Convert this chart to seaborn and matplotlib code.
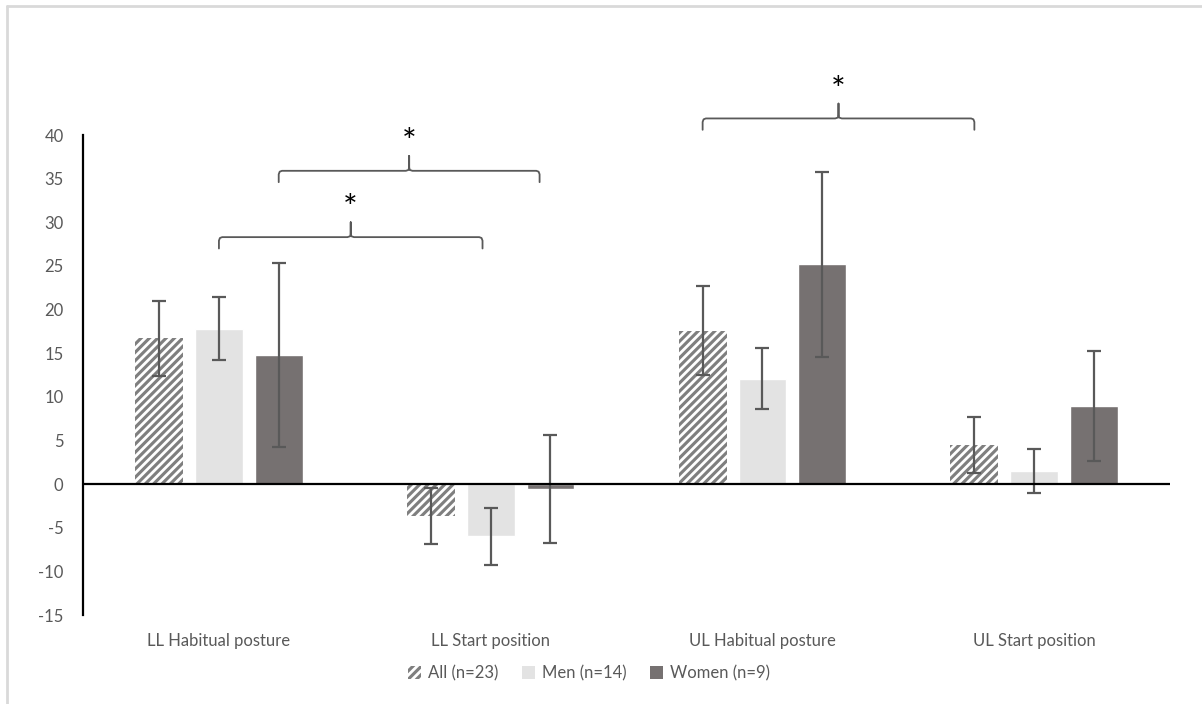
import numpy as np
import pandas as pd
import matplotlib
matplotlib.use("Agg")
import matplotlib.pyplot as plt
import seaborn as sns

# values
categories = ["LL Habitual posture", "LL Start position", "UL Habitual posture", "UL Start position"]
groups = ["All (n=23)", "Men (n=14)", "Women (n=9)"]
means_all = [16.7, -3.7, 17.6, 4.5]
means_men = [17.8, -6.0, 12.1, 1.5]
means_women = [14.8, -0.6, 25.2, 8.9]
err_all = [4.3, 3.2, 5.1, 3.2]
err_men = [3.6, 3.3, 3.5, 2.5]
err_women = [10.5, 6.2, 10.6, 6.3]
yticks = list(range(-15, 45, 5))

# significance brackets: (x start, x end, y level)
brackets = [(0.0, 0.97, 28.3), (0.22, 1.18, 35.9), (1.78, 2.78, 41.9)]

colors = ["#7f7f7f", "#e3e3e3", "#767171"]
text_gray = "#595959"

sns.set_style("white")
plt.rcParams["font.family"] = ["Lato", "DejaVu Sans"]
plt.rcParams["hatch.linewidth"] = 2.0
plt.rcParams["axes.unicode_minus"] = False

df = pd.DataFrame({
    "category": categories * 3,
    "group": [g for g in groups for _ in categories],
    "value": means_all + means_men + means_women,
})
errs = [err_all, err_men, err_women]

fig = plt.figure(figsize=(12.02, 7.04), dpi=100)
ax = fig.add_axes([0.0691, 0.1264, 0.9043, 0.6818])

sns.barplot(data=df, x="category", y="value", hue="group", order=categories,
            hue_order=groups, palette=colors, width=0.66, gap=0.2,
            saturation=1, errorbar=None, legend=False, ax=ax)

for cont, e in zip(ax.containers, errs):
    xs = [p.get_x() + p.get_width() / 2 for p in cont.patches]
    ys = [p.get_y() + p.get_height() for p in cont.patches]
    ax.errorbar(xs, ys, yerr=e, fmt="none", ecolor=text_gray, elinewidth=1.6,
                capsize=5, capthick=1.6, zorder=3)

# hatched "All" bars
for p in ax.containers[0].patches:
    p.set_hatch("////")
    p.set_edgecolor("white")
    p.set_linewidth(0)

ax.axhline(0, color="black", lw=1.6, zorder=4)
ax.set_xlim(-0.5, 3.5)
ax.set_ylim(-15, 40)
ax.set_yticks(yticks)
ax.set_xlabel("")
ax.set_ylabel("")
for s in ["top", "right", "bottom"]:
    ax.spines[s].set_visible(False)
ax.spines["left"].set_color("black")
ax.spines["left"].set_linewidth(1.6)
ax.tick_params(axis="y", length=0, pad=14, labelsize=12, labelcolor=text_gray)
ax.tick_params(axis="x", length=0, pad=13, labelsize=12, labelcolor=text_gray)


def brace(x0, x1, y):
    tip = 1.3
    peak = 1.7
    r = 0.012
    xm = (x0 + x1) / 2
    xs = [x0, x0, x0 + r * 0.3, x0 + r, xm - r, xm - r * 0.2, xm, xm,
          xm, xm + r * 0.2, xm + r, x1 - r, x1 - r * 0.3, x1, x1]
    ys = [y - tip, y - 0.4, y - 0.1, y, y, y + 0.1, y + 0.4, y + peak,
          y + 0.4, y + 0.1, y, y, y - 0.1, y - 0.4, y - tip]
    ax.plot(xs, ys, color=text_gray, lw=1.3, clip_on=False, zorder=5)
    ax.text(xm, y + 3.2, "*", ha="center", va="center", fontsize=25,
            color="black", clip_on=False)


for x0, x1, y in brackets:
    brace(x0, x1, y)

handles = [plt.Rectangle((0, 0), 1, 1, facecolor=c, edgecolor="white", lw=0) for c in colors]
handles[0].set_hatch("////")
fig.legend(handles, groups, loc="center", bbox_to_anchor=(0.49, 0.044), ncol=3,
           frameon=False, fontsize=12, labelcolor=text_gray, handlelength=0.8,
           handleheight=0.8, handletextpad=0.4, columnspacing=1.4)

# outer chart frame
fig.add_artist(plt.Line2D([7 / 1202, 7 / 1202], [0, 1 - 6 / 704], color="#d9d9d9", lw=2,
                          transform=fig.transFigure))
fig.add_artist(plt.Line2D([7 / 1202, 1], [1 - 6 / 704, 1 - 6 / 704], color="#d9d9d9", lw=2,
                          transform=fig.transFigure))

fig.savefig("out.png", dpi=100)
